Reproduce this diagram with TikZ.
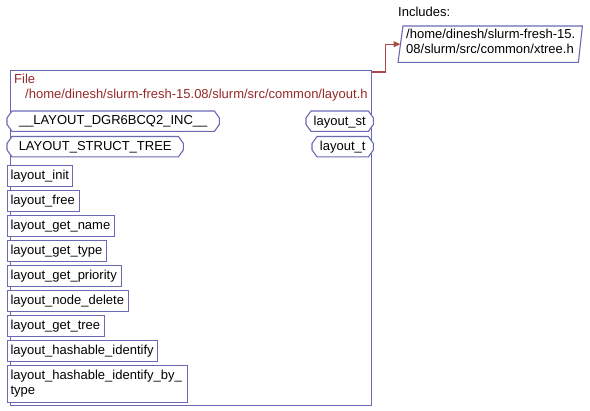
\documentclass[tikz,border=0pt]{standalone}
\usepackage{fontspec}
\setmainfont{Liberation Sans}
\usetikzlibrary{arrows.meta}
\definecolor{frame}{RGB}{105,105,180}
\definecolor{fileRed}{RGB}{150,40,40}
\definecolor{linkRed}{RGB}{170,75,75}
\begin{document}
\begin{tikzpicture}[x=1pt,y=-1pt,
  every node/.style={font=\fontsize{13}{15}\selectfont, inner sep=0pt},
  fnbox/.style={draw=frame, line width=1.1pt, fill=white, anchor=north west,
    inner xsep=3pt, minimum height=21pt, align=left, text width=#1},
  symbox/.style={anchor=north west, minimum height=20pt, minimum width=#1},
  outline/.style={draw=frame, line width=1.1pt, fill=white},
  link/.style={draw=linkRed, line width=1.1pt, -{Triangle[length=7pt,width=6pt]}}
]
\useasboundingbox (0,0) rectangle (590,411);

% the file frame and its title
\node[draw=frame, line width=1.1pt, anchor=north west, minimum width=361pt,
      minimum height=335pt] (file) at (10,70) {};
\node[anchor=north west, align=left, text=fileRed] (title) at (14,74)
  {File\\\hspace*{11pt}/home/dinesh/slurm-fresh-15.08/slurm/src/common/layout.h};

% macros and types, drawn with cut corners
\node[symbox=212pt] (d1) at (7,111) {};
\node[symbox=176pt] (d2) at (7,136.5) {};
\node[symbox=67pt]  (t1) at (306,111) {};
\node[symbox=61pt]  (t2) at (312,136.5) {};
\foreach \n in {d1,d2,t1,t2}
  \draw[outline] ([xshift=5pt]\n.north west) -- ([xshift=-5pt]\n.north east)
    -- ([yshift=-7pt]\n.north east) -- ([yshift=7pt]\n.south east)
    -- ([xshift=-5pt]\n.south east) -- ([xshift=5pt]\n.south west)
    -- ([yshift=7pt]\n.south west) -- ([yshift=-7pt]\n.north west) -- cycle;
\node at ([yshift=-0.5pt]d1.center) {\_\_LAYOUT\_DGR6BCQ2\_INC\_\_};
\node at ([yshift=-0.5pt]d2.center) {LAYOUT\_STRUCT\_TREE};
\node at ([yshift=-0.5pt]t1.center) {layout\_st};
\node at ([yshift=-0.5pt]t2.center) {layout\_t};

% functions
\node[fnbox=59pt]  (f1) at (7,165) {layout\_init};
\node[fnbox=66pt]  (f2) at (7,190) {layout\_free};
\node[fnbox=101pt] (f3) at (7,215) {layout\_get\_name};
\node[fnbox=93pt]  (f4) at (7,240) {layout\_get\_type};
\node[fnbox=108pt] (f5) at (7,265) {layout\_get\_priority};
\node[fnbox=115pt] (f6) at (7,290) {layout\_node\_delete};
\node[fnbox=91pt]  (f7) at (7,315) {layout\_get\_tree};
\node[fnbox=144pt] (f8) at (7,340) {layout\_hashable\_identify};
\node[fnbox=174pt, minimum height=37pt] (f9) at (7,365)
  {layout\_hashable\_identify\_by\_\\type};

% included header
\node[anchor=north west] (inclabel) at (398,7) {Includes:};
\node[anchor=north west, minimum width=184pt, minimum height=36pt] (inc) at (398,26) {};
\draw[outline] ([xshift=5pt]inc.north west) -- (inc.north east)
  -- ([xshift=-4pt]inc.south east) -- (inc.south west) -- cycle;
\node[anchor=north west, align=left] (incname) at (406,29)
  {/home/dinesh/slurm-fresh-15.\\08/slurm/src/common/xtree.h};

% include link
\draw[link] ([yshift=-2pt]file.north east) -- ++(13pt,0) |- ([xshift=2.5pt]inc.west);
\end{tikzpicture}
\end{document}
